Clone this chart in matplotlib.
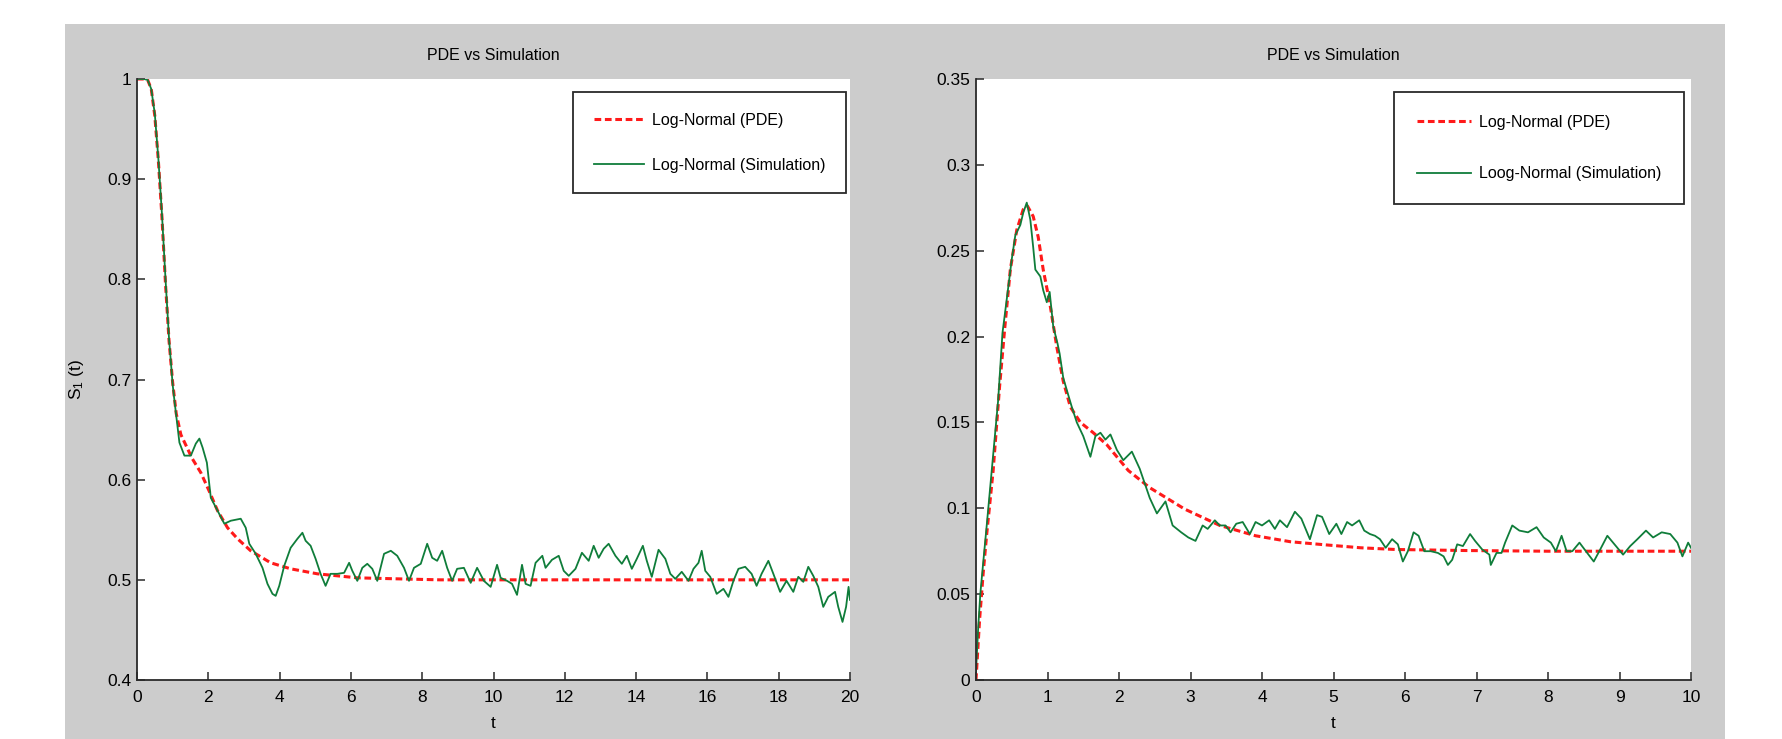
import matplotlib
matplotlib.use("Agg")
import matplotlib.pyplot as plt
from matplotlib.patches import Rectangle
from matplotlib import font_manager

# ---------------- data ----------------
titles = ["PDE vs Simulation", "PDE vs Simulation"]
left_labels = ["Log-Normal (PDE)", "Log-Normal (Simulation)"]
right_labels = ["Log-Normal (PDE)", "Loog-Normal (Simulation)"]

left_xticks = [0, 2, 4, 6, 8, 10, 12, 14, 16, 18, 20]
left_yticks = [0.4, 0.5, 0.6, 0.7, 0.8, 0.9, 1.0]
left_yticklabels = ["0.4", "0.5", "0.6", "0.7", "0.8", "0.9", "1"]
right_xticks = [0, 1, 2, 3, 4, 5, 6, 7, 8, 9, 10]
right_yticks = [0, 0.05, 0.1, 0.15, 0.2, 0.25, 0.3, 0.35]
right_yticklabels = ["0", "0.05", "0.1", "0.15", "0.2", "0.25", "0.3", "0.35"]

t_left_pde = [0, 0.2, 0.3, 0.4, 0.5, 0.6, 0.7, 0.8, 0.9, 1.0, 1.1, 1.23, 1.55, 1.79,
              2.02, 2.26, 2.54, 2.82, 3.19, 3.75, 4.31, 5.06, 6.18, 7.3, 8.5, 20]
s_left_pde = [1.0, 1.0, 0.999, 0.99, 0.963, 0.918, 0.862, 0.795, 0.738, 0.697, 0.666,
              0.645, 0.621, 0.607, 0.589, 0.569, 0.552, 0.541, 0.529, 0.517, 0.511,
              0.506, 0.502, 0.501, 0.5, 0.5]

t_left_sim = [0, 0.1, 0.2, 0.3, 0.4, 0.5, 0.6, 0.7, 0.8, 0.9, 1.0, 1.05, 1.19, 1.33,
              1.51, 1.65, 1.75, 1.84, 1.96, 2.07, 2.26, 2.45, 2.63, 2.91, 3.05, 3.15,
              3.33, 3.52, 3.66, 3.80, 3.89, 3.99, 4.13, 4.31, 4.50, 4.64, 4.73, 4.87,
              5.01, 5.15, 5.29, 5.43, 5.62, 5.81, 5.95, 6.04, 6.18, 6.32, 6.46, 6.60,
              6.74, 6.93, 7.12, 7.30, 7.49, 7.63, 7.77, 7.96, 8.14, 8.28, 8.42, 8.56,
              8.70, 8.84, 8.98, 9.17, 9.36, 9.54, 9.73, 9.92, 10.10, 10.20, 10.38,
              10.52, 10.66, 10.80, 10.90, 11.04, 11.18, 11.37, 11.46, 11.64, 11.83,
              11.97, 12.11, 12.30, 12.48, 12.67, 12.81, 12.95, 13.09, 13.23, 13.42,
              13.60, 13.74, 13.88, 14.02, 14.19, 14.30, 14.44, 14.63, 14.82, 14.96,
              15.10, 15.28, 15.47, 15.61, 15.75, 15.84, 15.94, 16.08, 16.26, 16.45,
              16.59, 16.73, 16.87, 17.06, 17.24, 17.38, 17.52, 17.71, 17.85, 18.04,
              18.22, 18.41, 18.55, 18.69, 18.83, 18.97, 19.11, 19.25, 19.39, 19.58,
              19.67, 19.79, 19.89, 19.96, 20.0]
s_left_sim = [1.0, 1.0, 1.0, 0.999, 0.99, 0.965, 0.92, 0.865, 0.80, 0.74, 0.695, 0.679,
              0.637, 0.624, 0.624, 0.636, 0.641, 0.632, 0.617, 0.582, 0.569, 0.556,
              0.559, 0.561, 0.552, 0.536, 0.526, 0.512, 0.496, 0.486, 0.484, 0.494,
              0.514, 0.532, 0.541, 0.547, 0.539, 0.534, 0.521, 0.506, 0.494, 0.506,
              0.506, 0.507, 0.517, 0.509, 0.499, 0.512, 0.516, 0.511, 0.499, 0.526,
              0.529, 0.524, 0.512, 0.499, 0.512, 0.516, 0.536, 0.522, 0.519, 0.529,
              0.512, 0.499, 0.511, 0.512, 0.497, 0.512, 0.499, 0.493, 0.515, 0.502,
              0.499, 0.496, 0.485, 0.515, 0.496, 0.494, 0.517, 0.524, 0.512, 0.520,
              0.524, 0.509, 0.504, 0.511, 0.527, 0.519, 0.534, 0.522, 0.531, 0.536,
              0.524, 0.516, 0.524, 0.511, 0.521, 0.534, 0.519, 0.503, 0.530, 0.521,
              0.506, 0.501, 0.508, 0.499, 0.511, 0.517, 0.529, 0.509, 0.503, 0.486,
              0.491, 0.483, 0.499, 0.511, 0.513, 0.506, 0.494, 0.506, 0.519, 0.506,
              0.488, 0.499, 0.488, 0.503, 0.498, 0.513, 0.504, 0.493, 0.473, 0.483,
              0.488, 0.473, 0.458, 0.473, 0.493, 0.480]

t_right_pde = [0, 0.05, 0.1, 0.15, 0.24, 0.33, 0.40, 0.48, 0.57, 0.66, 0.72, 0.80, 0.87,
               0.94, 1.03, 1.13, 1.22, 1.32, 1.46, 1.64, 1.83, 2.01, 2.13, 2.43, 2.92,
               3.41, 3.91, 4.40, 4.89, 5.38, 5.87, 6.85, 8.0, 10.0]
s_right_pde = [0.0, 0.035, 0.062, 0.085, 0.122, 0.171, 0.204, 0.239, 0.262, 0.274, 0.276,
               0.270, 0.258, 0.239, 0.220, 0.194, 0.174, 0.159, 0.150, 0.144, 0.137,
               0.128, 0.122, 0.112, 0.0995, 0.090, 0.084, 0.0805, 0.0787, 0.077, 0.076,
               0.0754, 0.075, 0.075]

t_right_sim = [0, 0.03, 0.06, 0.1, 0.15, 0.22, 0.31, 0.37, 0.44, 0.50, 0.55, 0.62, 0.66,
               0.71, 0.76, 0.80, 0.83, 0.90, 0.94, 0.99, 1.03, 1.08, 1.14, 1.17, 1.22,
               1.29, 1.34, 1.41, 1.50, 1.60, 1.67, 1.74, 1.81, 1.88, 1.97, 2.06, 2.18,
               2.29, 2.43, 2.53, 2.65, 2.75, 2.87, 2.97, 3.07, 3.17, 3.24, 3.34, 3.41,
               3.49, 3.56, 3.64, 3.73, 3.83, 3.91, 4.00, 4.10, 4.18, 4.25, 4.35, 4.46,
               4.55, 4.67, 4.77, 4.84, 4.94, 5.04, 5.11, 5.19, 5.26, 5.36, 5.43, 5.51,
               5.58, 5.65, 5.73, 5.82, 5.90, 5.97, 6.04, 6.12, 6.19, 6.27, 6.36, 6.46,
               6.54, 6.60, 6.66, 6.73, 6.81, 6.91, 6.98, 7.08, 7.18, 7.20, 7.28, 7.35,
               7.40, 7.50, 7.60, 7.72, 7.84, 7.94, 8.04, 8.11, 8.19, 8.26, 8.34, 8.44,
               8.53, 8.64, 8.73, 8.83, 8.93, 9.05, 9.15, 9.25, 9.37, 9.47, 9.59, 9.71,
               9.81, 9.88, 9.96, 10.0]
s_right_sim = [0.005, 0.03, 0.05, 0.068, 0.09, 0.122, 0.163, 0.202, 0.225, 0.245, 0.259,
               0.265, 0.272, 0.278, 0.268, 0.252, 0.239, 0.235, 0.227, 0.220, 0.226,
               0.206, 0.196, 0.190, 0.176, 0.166, 0.159, 0.150, 0.142, 0.130, 0.142,
               0.144, 0.140, 0.143, 0.134, 0.128, 0.133, 0.123, 0.106, 0.097, 0.104,
               0.090, 0.086, 0.083, 0.081, 0.090, 0.088, 0.093, 0.090, 0.090, 0.086,
               0.091, 0.092, 0.085, 0.092, 0.090, 0.093, 0.088, 0.093, 0.089, 0.098,
               0.094, 0.082, 0.096, 0.095, 0.085, 0.091, 0.085, 0.092, 0.090, 0.093,
               0.087, 0.085, 0.084, 0.082, 0.077, 0.082, 0.079, 0.069, 0.075, 0.086,
               0.084, 0.075, 0.075, 0.074, 0.072, 0.067, 0.070, 0.079, 0.078, 0.085,
               0.081, 0.076, 0.073, 0.067, 0.074, 0.074, 0.080, 0.090, 0.087, 0.086,
               0.089, 0.083, 0.080, 0.075, 0.084, 0.075, 0.075, 0.080, 0.075, 0.069,
               0.076, 0.084, 0.079, 0.073, 0.078, 0.082, 0.087, 0.083, 0.086, 0.085,
               0.080, 0.072, 0.080, 0.077]

# ---------------- style ----------------
installed = {f.name for f in font_manager.fontManager.ttflist}
fam = [f for f in ["Liberation Sans Narrow", "Liberation Sans", "DejaVu Sans"] if f in installed]
plt.rcParams["font.family"] = fam
plt.rcParams["mathtext.default"] = "regular"
FS = 12.5      # tick labels
FS_T = 11.5    # title / legend

RED = "#ff1a1a"
GREEN = "#0f7d3a"
BG = "#cccccc"

W, H = 1782, 739
fig = plt.figure(figsize=(W / 100, H / 100), dpi=100, facecolor="white")
fig.patches.append(Rectangle((65 / W, 0), (1725 - 65) / W, (739 - 24) / H,
                             transform=fig.transFigure, facecolor=BG,
                             edgecolor="none", zorder=-10))

def make_axes(x0, x1):
    return fig.add_axes([x0 / W, 1 - 680 / H, (x1 - x0) / W, (680 - 79) / H])

axL = make_axes(137, 850)
axR = make_axes(976, 1691)

def style(ax, xlim, ylim, xt, yt, ytl, title):
    ax.set_xlim(*xlim)
    ax.set_ylim(*ylim)
    ax.set_xticks(xt)
    ax.set_xticklabels([str(v) for v in xt])
    ax.set_yticks(yt)
    ax.set_yticklabels(ytl)
    for s in ("top", "right"):
        ax.spines[s].set_visible(False)
    for s in ("left", "bottom"):
        ax.spines[s].set_linewidth(1.3)
        ax.spines[s].set_color("#2a2a2a")
    ax.tick_params(direction="in", length=6, width=1.1, color="#2a2a2a",
                   labelsize=FS, labelcolor="black")
    ax.tick_params(axis="x", pad=7)
    ax.tick_params(axis="y", pad=4)
    ax.set_xlabel("t", fontsize=FS)
    ax.xaxis.set_label_coords(0.5, -0.06)
    ax.set_title(title, fontsize=FS_T, pad=14)

style(axL, (0, 20), (0.4, 1.0), left_xticks, left_yticks, left_yticklabels, titles[0])
style(axR, (0, 10), (0, 0.35), right_xticks, right_yticks, right_yticklabels, titles[1])

axL.plot(t_left_pde, s_left_pde, color=RED, lw=2.2, ls=(0, (2.2, 1.2)),
         label=left_labels[0])
axL.plot(t_left_sim, s_left_sim, color=GREEN, lw=1.3, label=left_labels[1])
axR.plot(t_right_pde, s_right_pde, color=RED, lw=2.2, ls=(0, (2.2, 1.2)),
         label=right_labels[0])
axR.plot(t_right_sim, s_right_sim, color=GREEN, lw=1.3, label=right_labels[1])

axL.set_ylabel("S$_1$ (t)", fontsize=FS)
axL.yaxis.set_label_coords(-0.072, 0.5)

for ax, anchor, hl, ls, bp in ((axL, (0.9944, 0.978), 3.1, 1.85, 1.3),
                               (axR, (0.990, 0.978), 3.4, 2.3, 1.4)):
    leg = ax.legend(loc="upper right", bbox_to_anchor=anchor, borderaxespad=0,
                    fontsize=FS_T, handlelength=hl, handletextpad=0.5,
                    labelspacing=ls, borderpad=bp, fancybox=False,
                    framealpha=1, edgecolor="#2a2a2a")
    leg.get_frame().set_linewidth(1.3)

fig.savefig("out.png", dpi=100, facecolor="white")
